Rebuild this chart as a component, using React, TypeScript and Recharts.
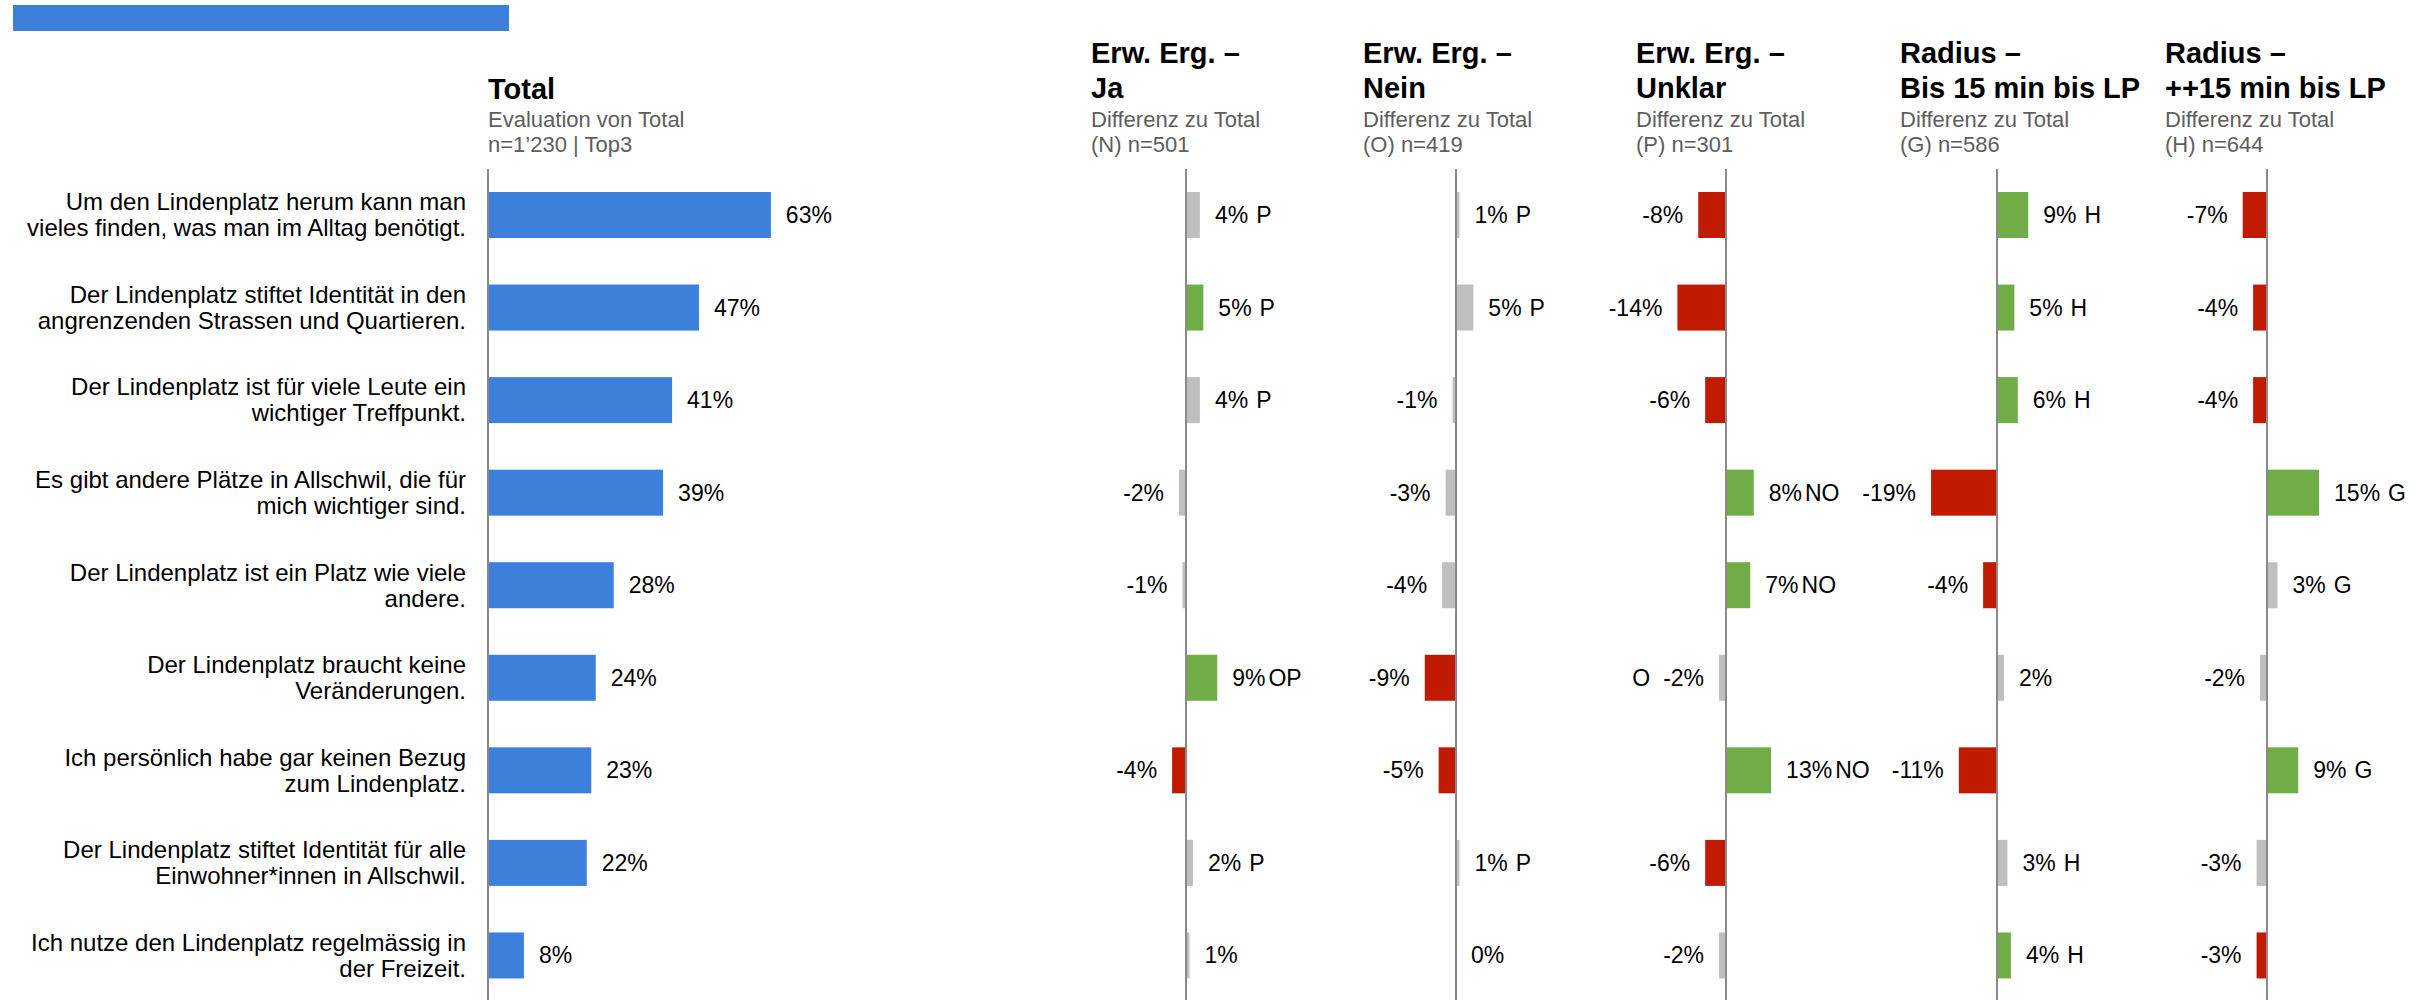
import React from 'react';
import { BarChart, Bar, XAxis, YAxis, ReferenceLine } from 'recharts';

// ---------- DATA ----------
const categories = [
  'Um den Lindenplatz herum kann man\nvieles finden, was man im Alltag benötigt.',
  'Der Lindenplatz stiftet Identität in den\nangrenzenden Strassen und Quartieren.',
  'Der Lindenplatz ist für viele Leute ein\nwichtiger Treffpunkt.',
  'Es gibt andere Plätze in Allschwil, die für\nmich wichtiger sind.',
  'Der Lindenplatz ist ein Platz wie viele\nandere.',
  'Der Lindenplatz braucht keine\nVeränderungen.',
  'Ich persönlich habe gar keinen Bezug\nzum Lindenplatz.',
  'Der Lindenplatz stiftet Identität für alle\nEinwohner*innen in Allschwil.',
  'Ich nutze den Lindenplatz regelmässig in\nder Freizeit.',
];

const totalValues = [63, 47, 41, 39, 28, 24, 23, 22, 8];
const totalTitle = 'Total';
const totalSub1 = 'Evaluation von Total';
const totalSub2 = 'n=1’230 | Top3';

const jaValues = [4, 5, 4, -2, -1, 9, -4, 2, 1];
const jaSig = ['ns', 'pos', 'ns', 'ns', 'ns', 'pos', 'neg', 'ns', 'ns'];
const jaLetters = ['P', 'P', 'P', '', '', 'OP', '', 'P', ''];

const neinValues = [1, 5, -1, -3, -4, -9, -5, 1, 0];
const neinSig = ['ns', 'ns', 'ns', 'ns', 'ns', 'neg', 'neg', 'ns', 'ns'];
const neinLetters = ['P', 'P', '', '', '', '', '', 'P', ''];

const unklarValues = [-8, -14, -6, 8, 7, -2, 13, -6, -2];
const unklarSig = ['neg', 'neg', 'neg', 'pos', 'pos', 'ns', 'pos', 'neg', 'ns'];
const unklarLetters = ['', '', '', 'NO', 'NO', 'O', 'NO', '', ''];

const bisValues = [9, 5, 6, -19, -4, 2, -11, 3, 4];
const bisSig = ['pos', 'pos', 'pos', 'neg', 'neg', 'ns', 'neg', 'ns', 'pos'];
const bisLetters = ['H', 'H', 'H', '', '', '', '', 'H', 'H'];

const plusValues = [-7, -4, -4, 15, 3, -2, 9, -3, -3];
const plusSig = ['neg', 'neg', 'neg', 'pos', 'ns', 'ns', 'pos', 'ns', 'neg'];
const plusLetters = ['', '', '', 'G', 'G', '', 'G', '', ''];

const panelTitles = [
  ['Erw. Erg. –', 'Ja'],
  ['Erw. Erg. –', 'Nein'],
  ['Erw. Erg. –', 'Unklar'],
  ['Radius –', 'Bis 15 min bis LP'],
  ['Radius –', '++15 min bis LP'],
];
const panelSub = 'Differenz zu Total';
const panelN = ['(N) n=501', '(O) n=419', '(P) n=301', '(G) n=586', '(H) n=644'];
const panelValues = [jaValues, neinValues, unklarValues, bisValues, plusValues];
const panelSigs = [jaSig, neinSig, unklarSig, bisSig, plusSig];
const panelLetters = [jaLetters, neinLetters, unklarLetters, bisLetters, plusLetters];

// ---------- LAYOUT / STYLE ----------
const FONT = '"Liberation Sans", Arial, Helvetica, sans-serif';
const COLORS: Record<string, string> = { pos: '#70AD47', neg: '#C01A00', ns: '#BFBFBF' };
const TOTAL_COLOR = '#3C80DC';
const AXIS_COLOR = '#8A8A8A';
const SUB_COLOR = '#5E5E5E';
const TOTAL_AXIS_X = 488;
const PLOT_TOP = 169;
const PLOT_H = 833;
const BAR_SIZE = 46;
const PX_PER_PCT_DIFF = 3.47;
const PX_PER_PCT_TOTAL = 4.49;
const PANEL_AXIS_X = [1186, 1456, 1726, 1997, 2267];
const PANEL_TITLE_X = [1091, 1363, 1636, 1900, 2165];
const PANEL_HALF = 270;
const VAL_FS = 23;
const SUB_FS = 22;
const LABEL_GAP = 15;

const totalRows = categories.map((name, i) => ({ name, v: totalValues[i] }));

const TotalShape = (props: any) => {
  const { x, y, width, height } = props;
  const d = props.payload ?? props;
  const left = Math.min(x, x + width);
  const w = Math.abs(width);
  const cy = y + height / 2;
  return (
    <g>
      <rect x={left} y={y} width={w} height={height} fill={TOTAL_COLOR} />
      <text x={left + w + LABEL_GAP} y={cy + VAL_FS * 0.35} fontFamily={FONT} fontSize={VAL_FS} fill="#000">
        {`${d.v}%`}
      </text>
    </g>
  );
};

const DiffShape = (props: any) => {
  const { x, y, width, height } = props;
  const d = props.payload ?? props;
  const left = Math.min(x, x + width);
  const w = Math.abs(width);
  const cy = y + height / 2;
  const neg = d.v < 0;
  const end = neg ? left : left + w;
  const ty = cy + VAL_FS * 0.35;
  const txt = `${d.v}%`;
  return (
    <g>
      <rect x={left} y={y} width={w} height={height} fill={COLORS[d.sig]} />
      {neg ? (
        <text x={end - LABEL_GAP} y={ty} textAnchor="end" fontFamily={FONT} fontSize={VAL_FS} fill="#000">
          {d.letters ? <tspan>{d.letters}</tspan> : null}
          <tspan dx={d.letters ? 13 : 0}>{txt}</tspan>
        </text>
      ) : (
        <text x={end + LABEL_GAP} y={ty} textAnchor="start" fontFamily={FONT} fontSize={VAL_FS} fill="#000">
          <tspan>{txt}</tspan>
          {d.letters ? <tspan dx={d.letters.length > 1 ? 3 : 8}>{d.letters}</tspan> : null}
        </text>
      )}
    </g>
  );
};

const CategoryTick = (props: any) => {
  const { x, y, payload } = props;
  const lines = String(payload.value).split('\n');
  return (
    <text x={x} y={y} textAnchor="end" fontFamily={FONT} fontSize={24} fill="#000">
      <tspan x={x} y={y - 5}>{lines[0]}</tspan>
      {lines[1] ? <tspan x={x} y={y + 21}>{lines[1]}</tspan> : null}
    </text>
  );
};

const Headers = () => (
  <svg width={2435} height={1000} style={{ position: 'absolute', left: 0, top: 0 }}>
    <text x={TOTAL_AXIS_X} y={99} fontFamily={FONT} fontSize={29} fontWeight="bold" fill="#000">{totalTitle}</text>
    <text x={TOTAL_AXIS_X} y={127} fontFamily={FONT} fontSize={SUB_FS} fill={SUB_COLOR}>{totalSub1}</text>
    <text x={TOTAL_AXIS_X} y={152} fontFamily={FONT} fontSize={SUB_FS} fill={SUB_COLOR}>{totalSub2}</text>
    {panelTitles.map((t, i) => (
      <g key={i}>
        <text x={PANEL_TITLE_X[i]} y={63} fontFamily={FONT} fontSize={29} fontWeight="bold" fill="#000">{t[0]}</text>
        <text x={PANEL_TITLE_X[i]} y={98} fontFamily={FONT} fontSize={29} fontWeight="bold" fill="#000">{t[1]}</text>
        <text x={PANEL_TITLE_X[i]} y={127} fontFamily={FONT} fontSize={SUB_FS} fill={SUB_COLOR}>{panelSub}</text>
        <text x={PANEL_TITLE_X[i]} y={152} fontFamily={FONT} fontSize={SUB_FS} fill={SUB_COLOR}>{panelN[i]}</text>
      </g>
    ))}
  </svg>
);

const DiffPanel = ({ idx }: { idx: number }) => {
  const rows = categories.map((name, i) => ({
    name,
    v: panelValues[idx][i],
    sig: panelSigs[idx][i],
    letters: panelLetters[idx][i],
  }));
  const D = PANEL_HALF / PX_PER_PCT_DIFF;
  return (
    <div style={{ position: 'absolute', left: PANEL_AXIS_X[idx] - PANEL_HALF, top: PLOT_TOP }}>
      <BarChart
        layout="vertical"
        width={PANEL_HALF * 2}
        height={PLOT_H}
        data={rows}
        margin={{ top: 0, right: 0, bottom: 0, left: 0 }}
        style={{ overflow: 'visible' }}
      >
        <XAxis type="number" domain={[-D, D]} hide allowDataOverflow />
        <YAxis type="category" dataKey="name" hide />
        <Bar dataKey="v" barSize={BAR_SIZE} shape={DiffShape} isAnimationActive={false} />
        <ReferenceLine x={0} stroke={AXIS_COLOR} strokeWidth={2} />
      </BarChart>
    </div>
  );
};

export default function App() {
  return (
    <div style={{ position: 'absolute', left: 0, top: 0, width: 2435, height: 1000, overflow: 'hidden', background: '#fff' }}>
      <div style={{ position: 'absolute', left: 13, top: 5, width: 496, height: 26, background: TOTAL_COLOR }} />
      <Headers />
      <div style={{ position: 'absolute', left: 0, top: PLOT_TOP }}>
        <BarChart
          layout="vertical"
          width={TOTAL_AXIS_X + 100 * PX_PER_PCT_TOTAL}
          height={PLOT_H}
          data={totalRows}
          margin={{ top: 0, right: 0, bottom: 0, left: 0 }}
        >
          <XAxis type="number" domain={[0, 100]} hide />
          <YAxis
            type="category"
            dataKey="name"
            width={TOTAL_AXIS_X}
            interval={0}
            tickSize={0}
            tickMargin={22}
            tickLine={false}
            axisLine={{ stroke: AXIS_COLOR, strokeWidth: 2 }}
            tick={<CategoryTick />}
          />
          <Bar dataKey="v" barSize={BAR_SIZE} shape={TotalShape} isAnimationActive={false} />
        </BarChart>
      </div>
      {PANEL_AXIS_X.map((_, i) => (
        <DiffPanel key={i} idx={i} />
      ))}
    </div>
  );
}
